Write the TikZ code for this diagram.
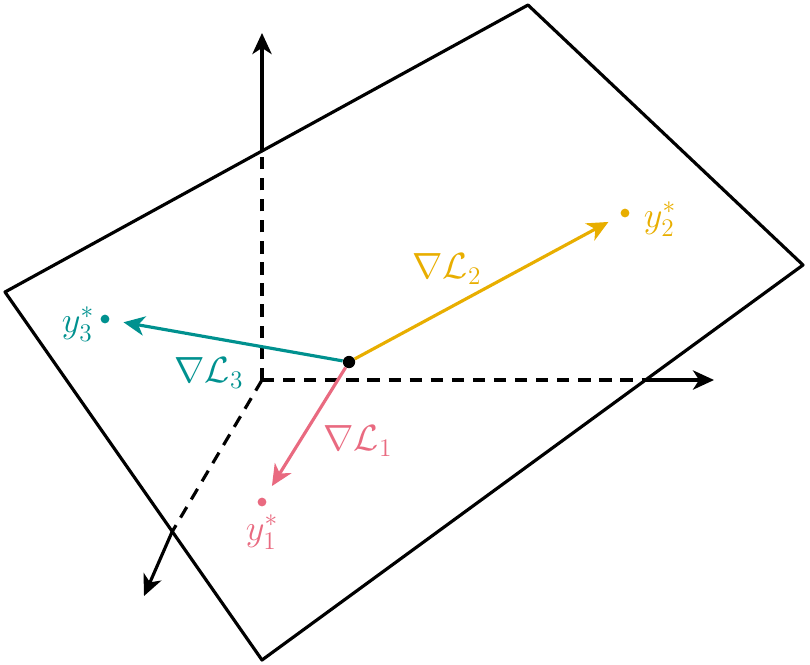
\documentclass[tikz,border=0pt]{standalone}
\usepackage{tikz}
\usetikzlibrary{arrows.meta}
\definecolor{gold}{HTML}{E8AE00}
\definecolor{teal}{HTML}{00918F}
\definecolor{rose}{HTML}{E96A80}
\tikzstyle{plane} = [line width=1.8pt, line join=round]
\tikzstyle{axis} = [line width=1.8pt, ->, >={Stealth[length=12pt,width=11pt,inset=3.5pt]}]
\tikzstyle{hidden} = [line width=1.8pt, dash pattern=on 7pt off 5pt]
\tikzstyle{grad} = [line width=1.8pt, ->, >={Stealth[length=12pt,width=11pt,inset=3.5pt]}, shorten >=8pt]
\tikzstyle{target} = [circle, inner sep=0pt, minimum size=5pt]
\tikzstyle{lbl} = [font=\fontsize{21}{25}\selectfont]

\begin{document}
\begin{tikzpicture}[x=0.02cm, y=-0.02cm]
\useasboundingbox (0,0) rectangle (810,664);
% plane
\draw [plane] (5,292) -- (528,5) -- (803,265) -- (262,660) -- cycle;
% axes
\coordinate (origin) at (262,380);
\coordinate (zcross) at (262,151);
\coordinate (ztip) at (262,33);
\coordinate (xcross) at (645,380);
\coordinate (xtip) at (714,380);
\coordinate (ycross) at (172,532);
\coordinate (ytip) at (144,596);
\draw [hidden] (origin) -- (zcross);
\draw [hidden] (origin) -- (xcross);
\draw [hidden] (origin) -- (ycross);
\draw [axis] (zcross) -- (ztip);
\draw [axis] (xcross) -- (xtip);
\draw [axis] (ycross) -- (ytip);
% targets
\node (y1) [target, fill=rose] at (262,502) {};
\node (y2) [target, fill=gold] at (625,213) {};
\node (y3) [target, fill=teal] at (105,319) {};
\node (y1lbl) [lbl, text=rose] at (262,532) {$y_1^*$};
\node (y2lbl) [lbl, text=gold] at (660,219) {$y_2^*$};
\node (y3lbl) [lbl, text=teal] at (78,324) {$y_3^*$};
% gradients
\node (center) [circle, fill=black, inner sep=0pt, minimum size=7pt] at (349,362) {};
\draw [grad, draw=gold, fill=gold] (center) -- (y2);
\draw [grad, draw=teal, fill=teal] (center) -- (y3);
\draw [grad, draw=rose, fill=rose] (center) -- (y1);
\node (g1) [lbl, text=rose] at (358,441) {$\nabla\mathcal{L}_1$};
\node (g2) [lbl, text=gold] at (447,269) {$\nabla\mathcal{L}_2$};
\node (g3) [lbl, text=teal] at (209,373) {$\nabla\mathcal{L}_3$};
\end{tikzpicture}
\end{document}
